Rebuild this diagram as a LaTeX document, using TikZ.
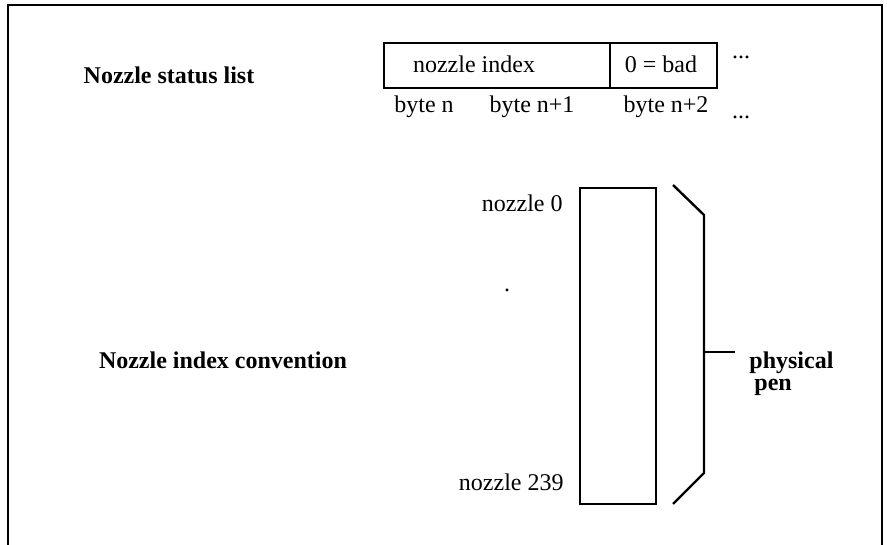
\documentclass[tikz,border=0pt]{standalone}
\usepackage{fontspec}
\setmainfont{Liberation Serif}
\begin{document}
\begin{tikzpicture}[x=0.5pt,y=-0.5pt,
  line/.style={line width=1.2pt},
  lbl/.style={inner sep=0pt,font=\fontsize{12}{14}\selectfont},
  blbl/.style={inner sep=0pt,font=\fontsize{12}{14}\selectfont\bfseries}]
\useasboundingbox (0,0) rectangle (887,545);
% frame
\coordinate (fbl) at (8,545);
\coordinate (ftl) at (8,5);
\coordinate (ftr) at (882,5);
\coordinate (fbr) at (882,545);
\draw[line] (fbl) -- (ftl) -- (ftr) -- (fbr);
% status list
\node[blbl] (title1) at (169,75) {Nozzle status list};
\node[draw,line,minimum width=226*0.5pt,minimum height=45*0.5pt,inner sep=0pt,anchor=north west] (idx) at (383,42) {};
\node[draw,line,minimum width=107*0.5pt,minimum height=45*0.5pt,inner sep=0pt,anchor=north west] (bad) at (609,42) {};
\node[lbl] (idxt) at (474,64) {nozzle index};
\node[lbl] (badt) at (661,64) {0 = bad};
\node[lbl] (dots1) at (741,57) {...};
\node[lbl] (b0) at (424,107) {byte n};
\node[lbl] (b1) at (532,107) {byte n+1};
\node[lbl] (b2) at (666,107) {byte n+2};
\node[lbl] (dots2) at (741,117) {...};
% index convention
\node[blbl] (title2) at (223,360) {Nozzle index convention};
\node[draw,line,minimum width=76*0.5pt,minimum height=316*0.5pt,inner sep=0pt,anchor=north west] (bar) at (579,187) {};
\node[lbl,anchor=east] (n0) at (563,203) {nozzle 0};
\node[lbl] (dot) at (507,290) {.};
\node[lbl,anchor=east] (n239) at (564,482) {nozzle 239};
\coordinate (p1) at (673,185);
\coordinate (p2) at (704,215);
\coordinate (p3) at (704,473);
\coordinate (p4) at (673,504);
\draw[line] (p1) -- (p2) -- (p3) -- (p4);
\coordinate (pm) at (704,352);
\coordinate (pe) at (735,352);
\draw[line] (pm) -- (pe);
\node[blbl,anchor=base west] (phys) at (749,368) {physical};
\node[blbl,anchor=base west] (pen) at (754,390) {pen};
\end{tikzpicture}
\end{document}
